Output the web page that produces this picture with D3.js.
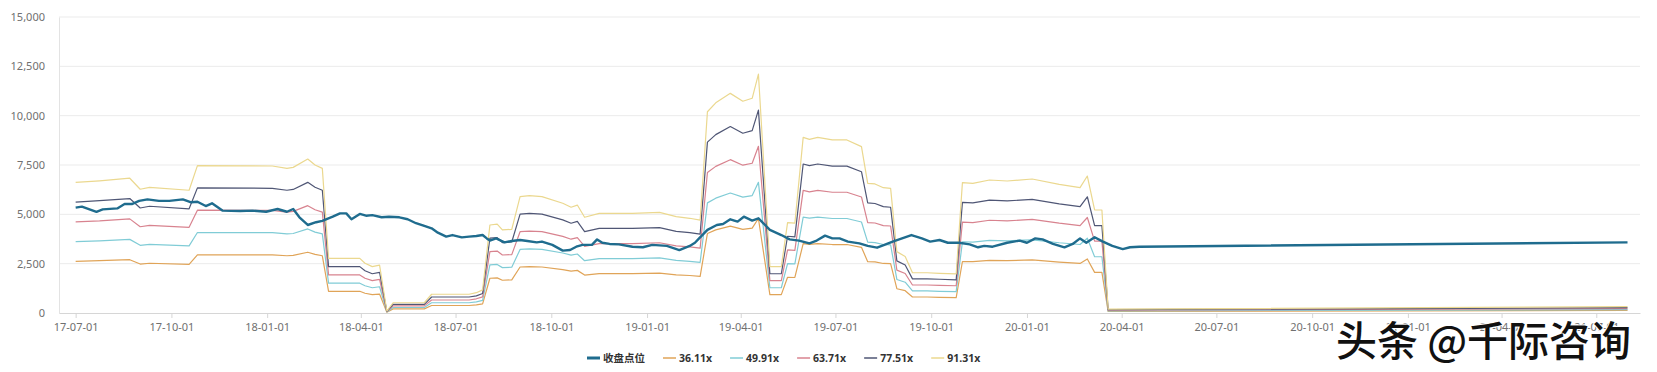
<!DOCTYPE html>
<html>
<head>
<meta charset="utf-8">
<script src="https://cdn.jsdelivr.net/npm/d3@7.9.0/dist/d3.min.js"></script>
<style>
  html, body { margin: 0; padding: 0; background: #fff; }
  svg { display: block; }
</style>
</head>
<body>
<svg id="chart" width="1657" height="372"></svg>
<script>
// ---- data ----
const closeDates = [
  "2017-07-01","2017-07-07","2017-07-21","2017-07-27","2017-08-10","2017-08-17","2017-08-24","2017-08-31","2017-09-08","2017-09-19",
  "2017-09-29","2017-10-12","2017-10-20","2017-10-26","2017-11-03","2017-11-09","2017-11-19","2017-12-06","2017-12-18","2017-12-31",
  "2018-01-11","2018-01-20","2018-01-26","2018-02-01","2018-02-09","2018-02-17","2018-02-23","2018-03-05","2018-03-12","2018-03-18",
  "2018-03-23","2018-03-31","2018-04-06","2018-04-12","2018-04-21","2018-04-28","2018-05-08","2018-05-16","2018-05-24","2018-06-01",
  "2018-06-08","2018-06-14","2018-06-22","2018-06-28","2018-07-07","2018-07-14","2018-07-21","2018-07-27","2018-07-31","2018-08-03",
  "2018-08-09","2018-08-17","2018-08-24","2018-09-01","2018-09-08","2018-09-17","2018-09-22","2018-10-02","2018-10-12","2018-10-19",
  "2018-10-25","2018-10-31","2018-11-09","2018-11-14","2018-11-19","2018-11-26","2018-12-05","2018-12-18","2018-12-28","2019-01-06",
  "2019-01-20","2019-02-01","2019-02-11","2019-02-16","2019-02-20","2019-02-28","2019-03-09","2019-03-15","2019-03-22","2019-03-29",
  "2019-04-04","2019-04-12","2019-04-18","2019-04-29","2019-05-10","2019-05-18","2019-05-27","2019-06-06","2019-06-13","2019-06-21",
  "2019-06-28","2019-07-05","2019-07-13","2019-07-24","2019-08-01","2019-08-10","2019-08-17","2019-08-25","2019-09-03","2019-09-12",
  "2019-09-22","2019-09-30","2019-10-09","2019-10-17","2019-10-28","2019-11-07","2019-11-15","2019-11-21","2019-11-29","2019-12-13",
  "2019-12-25","2020-01-01","2020-01-09","2020-01-16","2020-01-26","2020-02-06","2020-02-14","2020-02-21","2020-02-27","2020-03-06",
  "2020-03-14","2020-03-23","2020-04-02","2020-04-09","2020-04-18","2021-07-31"
];
const closeValues = [
  5340, 5390, 5130, 5250, 5300, 5520, 5520, 5680, 5760, 5680,
  5680, 5760, 5610, 5640, 5420, 5560, 5190, 5170, 5190, 5130,
  5270, 5130, 5270, 4850, 4460, 4600, 4670, 4880, 5050, 5050,
  4750, 5020, 4930, 4960, 4850, 4880, 4850, 4750, 4550, 4410,
  4290, 4070, 3870, 3950, 3830, 3870, 3900, 3950, 3780, 3670,
  3780, 3580, 3650, 3700, 3650, 3580, 3620, 3450, 3160, 3190,
  3360, 3450, 3450, 3730, 3560, 3500, 3480, 3360, 3330, 3450,
  3400, 3190, 3400, 3560, 3780, 4210, 4460, 4510, 4750, 4630,
  4880, 4680, 4800, 4210, 3950, 3730, 3670, 3530, 3670, 3920,
  3780, 3780, 3620, 3530, 3400, 3310, 3450, 3620, 3780, 3950,
  3780, 3620, 3700, 3560, 3560, 3480, 3330, 3400, 3360, 3560,
  3670, 3560, 3780, 3730, 3500, 3330, 3500, 3780, 3560, 3840,
  3620, 3400, 3240, 3330, 3360, 3580
];

const bandDates = [
  "2017-07-01","2017-07-24","2017-08-22","2017-09-01","2017-09-10","2017-10-18","2017-10-26","2018-01-06","2018-01-20","2018-01-26",
  "2018-02-09","2018-02-16","2018-02-23","2018-03-01","2018-03-31","2018-04-05","2018-04-12","2018-04-19","2018-04-26","2018-05-02",
  "2018-06-01","2018-06-08","2018-07-14","2018-07-21","2018-07-27","2018-08-03","2018-08-10","2018-08-15","2018-08-24","2018-09-01",
  "2018-09-10","2018-09-22","2018-10-12","2018-10-20","2018-10-26","2018-11-02","2018-11-16","2018-12-18","2019-01-13","2019-01-29",
  "2019-02-11","2019-02-21","2019-02-28","2019-03-08","2019-03-22","2019-04-03","2019-04-12","2019-04-18","2019-04-29","2019-05-10",
  "2019-05-16","2019-05-23","2019-05-31","2019-06-06","2019-06-14","2019-06-28","2019-07-12","2019-07-26","2019-08-01","2019-08-08",
  "2019-08-16","2019-08-23","2019-08-29","2019-09-06","2019-09-13","2019-09-27","2019-10-09","2019-10-25","2019-10-31","2019-11-10",
  "2019-11-26","2019-12-13","2020-01-06","2020-02-01","2020-02-21","2020-02-28","2020-03-06","2020-03-13","2020-03-19","2021-07-31"
];
const pe36 = [
  2620, 2650, 2700, 2480, 2520, 2460, 2950, 2950, 2900, 2920,
  3080, 2970, 2900, 1100, 1100, 1000, 930, 960, 40, 210,
  210, 380, 380, 410, 460, 1760, 1780, 1660, 1680, 2330,
  2350, 2330, 2200, 2120, 2160, 1920, 2000, 2000, 2020, 1930,
  1900, 1860, 4030, 4210, 4400, 4240, 4300, 4790, 930, 930,
  1810, 1800, 3520, 3480, 3520, 3470, 3470, 3330, 2600, 2590,
  2510, 2500, 1230, 1130, 810, 810, 790, 780, 2610, 2600,
  2670, 2650, 2690, 2580, 2510, 2740, 2060, 2060, 80, 130
];
const pe49 = [
  3620, 3660, 3730, 3430, 3480, 3400, 4080, 4070, 4010, 4030,
  4260, 4100, 4010, 1510, 1510, 1380, 1280, 1330, 55, 280,
  280, 520, 520, 560, 640, 2440, 2460, 2300, 2320, 3220,
  3250, 3220, 3040, 2930, 2990, 2650, 2760, 2760, 2790, 2670,
  2620, 2570, 5580, 5820, 6080, 5870, 5950, 6620, 1280, 1280,
  2500, 2490, 4860, 4810, 4860, 4790, 4790, 4610, 3590, 3570,
  3470, 3450, 1700, 1560, 1120, 1120, 1100, 1080, 3610, 3590,
  3680, 3660, 3710, 3560, 3470, 3790, 2850, 2850, 110, 170
];
const pe63 = [
  4620, 4670, 4770, 4370, 4440, 4340, 5210, 5200, 5110, 5150,
  5440, 5230, 5110, 1930, 1930, 1760, 1640, 1700, 70, 360,
  360, 660, 660, 720, 820, 3110, 3140, 2940, 2960, 4120,
  4150, 4120, 3880, 3740, 3820, 3380, 3520, 3520, 3560, 3400,
  3350, 3290, 7120, 7430, 7770, 7490, 7590, 8450, 1640, 1640,
  3200, 3170, 6210, 6140, 6210, 6120, 6120, 5880, 4580, 4560,
  4430, 4410, 2170, 2000, 1420, 1420, 1400, 1380, 4610, 4580,
  4700, 4670, 4740, 4550, 4430, 4840, 3640, 3640, 140, 220
];
const pe77 = [
  5620, 5690, 5800, 5320, 5410, 5280, 6340, 6320, 6220, 6260,
  6620, 6370, 6220, 2350, 2350, 2140, 1990, 2060, 85, 440,
  440, 810, 810, 870, 990, 3790, 3820, 3570, 3600, 5010,
  5050, 5010, 4720, 4550, 4640, 4120, 4290, 4290, 4330, 4140,
  4070, 4000, 8660, 9040, 9450, 9110, 9240, 10280, 1990, 1990,
  3890, 3860, 7550, 7470, 7550, 7440, 7440, 7160, 5580, 5550,
  5390, 5360, 2640, 2430, 1730, 1730, 1710, 1680, 5610, 5580,
  5720, 5680, 5760, 5530, 5390, 5890, 4430, 4430, 170, 270
];
const pe91 = [
  6620, 6700, 6830, 6270, 6370, 6220, 7470, 7450, 7330, 7380,
  7800, 7500, 7330, 2770, 2770, 2520, 2350, 2430, 100, 520,
  520, 950, 950, 1030, 1170, 4460, 4500, 4210, 4240, 5900,
  5950, 5900, 5560, 5360, 5470, 4850, 5050, 5050, 5100, 4880,
  4800, 4710, 10200, 10650, 11130, 10730, 10880, 12110, 2350, 2350,
  4580, 4550, 8900, 8800, 8900, 8770, 8770, 8430, 6570, 6540,
  6350, 6320, 3110, 2860, 2040, 2040, 2010, 1980, 6610, 6570,
  6740, 6690, 6790, 6520, 6350, 6940, 5220, 5220, 200, 320
];

const seriesNames = ["收盘点位", "36.11x", "49.91x", "63.71x", "77.51x", "91.31x"];
const seriesColors = ["#1f6c8e", "#e0a458", "#80ccd6", "#d8838f", "#4f5675", "#ebd88f"];
const yTicks = [0, 2500, 5000, 7500, 10000, 12500, 15000];
const watermark = "头条 @千际咨询";

// ---- layout ----
const W = 1657, H = 372;
const margin = { left: 59, right: 17, top: 17, bottom: 59 };
const parse = d3.timeParse("%Y-%m-%d");

const svg = d3.select("#chart");
svg.append("rect").attr("width", W).attr("height", H).attr("fill", "#fff");

const x = d3.scaleTime()
  .domain([parse("2017-06-15"), parse("2021-08-12")])
  .range([margin.left, W - margin.right]);
const y = d3.scaleLinear()
  .domain([0, 15000])
  .range([H - margin.bottom, margin.top]);

// grid lines
svg.append("g")
  .selectAll("line")
  .data(yTicks.slice(1))
  .join("line")
  .attr("x1", margin.left).attr("x2", W - margin.right)
  .attr("y1", d => y(d)).attr("y2", d => y(d))
  .attr("stroke", "#ebebeb").attr("stroke-width", 1);

// y axis
const yAxis = svg.append("g")
  .attr("transform", `translate(${margin.left},0)`)
  .call(d3.axisLeft(y).tickValues(yTicks).tickFormat(d3.format(",")).tickSize(0).tickPadding(14));
yAxis.select(".domain").attr("stroke", "#e3e3e3");
yAxis.selectAll("text").attr("fill", "#707070").style("font-family", "'Noto Sans', sans-serif").style("font-size", "11px");

// x axis
const xTicks = d3.timeMonth.range(parse("2017-07-01"), parse("2021-07-02"), 3);
const xAxis = svg.append("g")
  .attr("transform", `translate(0,${y(0)})`)
  .call(d3.axisBottom(x).tickValues(xTicks).tickFormat(d3.timeFormat("%y-%m-%d")).tickSize(5).tickPadding(5).tickSizeOuter(0));
xAxis.select(".domain").attr("stroke", "#d6d6d6");
xAxis.selectAll(".tick line").attr("stroke", "#d6d6d6");
xAxis.selectAll("text").attr("fill", "#707070").style("font-family", "'Noto Sans', sans-serif").style("font-size", "11px");

// lines
const line = d3.line().x(d => x(d.date)).y(d => y(d.value));
const bandSeries = [pe36, pe49, pe63, pe77, pe91];
bandSeries.forEach((vals, i) => {
  const pts = bandDates.map((d, j) => ({ date: parse(d), value: vals[j] }));
  svg.append("path")
    .datum(pts)
    .attr("fill", "none")
    .attr("stroke", seriesColors[i + 1])
    .attr("stroke-width", 1.2)
    .attr("stroke-linejoin", "round")
    .attr("d", line);
});
const closePts = closeDates.map((d, j) => ({ date: parse(d), value: closeValues[j] }));
svg.append("path")
  .datum(closePts)
  .attr("fill", "none")
  .attr("stroke", seriesColors[0])
  .attr("stroke-width", 2.4)
  .attr("stroke-linejoin", "round")
  .attr("d", line);

// legend
const legend = svg.append("g").attr("transform", "translate(587,358)");
let lx = 0;
seriesNames.forEach((name, i) => {
  const item = legend.append("g").attr("transform", `translate(${lx},0)`);
  item.append("line")
    .attr("x1", 0).attr("x2", 13).attr("y1", 0).attr("y2", 0)
    .attr("stroke", seriesColors[i])
    .attr("stroke-width", i === 0 ? 3 : 1.5);
  const t = item.append("text")
    .attr("x", 16).attr("y", 0)
    .attr("dominant-baseline", "central")
    .attr("fill", "#333")
    .style("font-family", "'Noto Sans', 'Noto Sans CJK SC', sans-serif")
    .style("font-weight", "bold")
    .style("font-size", "10.5px")
    .text(name);
  lx += 16 + t.node().getComputedTextLength() + 18;
});

// watermark
svg.append("text")
  .attr("x", 1336).attr("y", 338)
  .attr("dominant-baseline", "central")
  .attr("fill", "#111")
  .attr("stroke", "#fff")
  .attr("stroke-width", 2)
  .attr("paint-order", "stroke")
  .style("font-family", "'Noto Sans CJK SC', sans-serif")
  .style("font-weight", "500")
  .style("font-size", "41px")
  .text(watermark);
</script>
</body>
</html>
